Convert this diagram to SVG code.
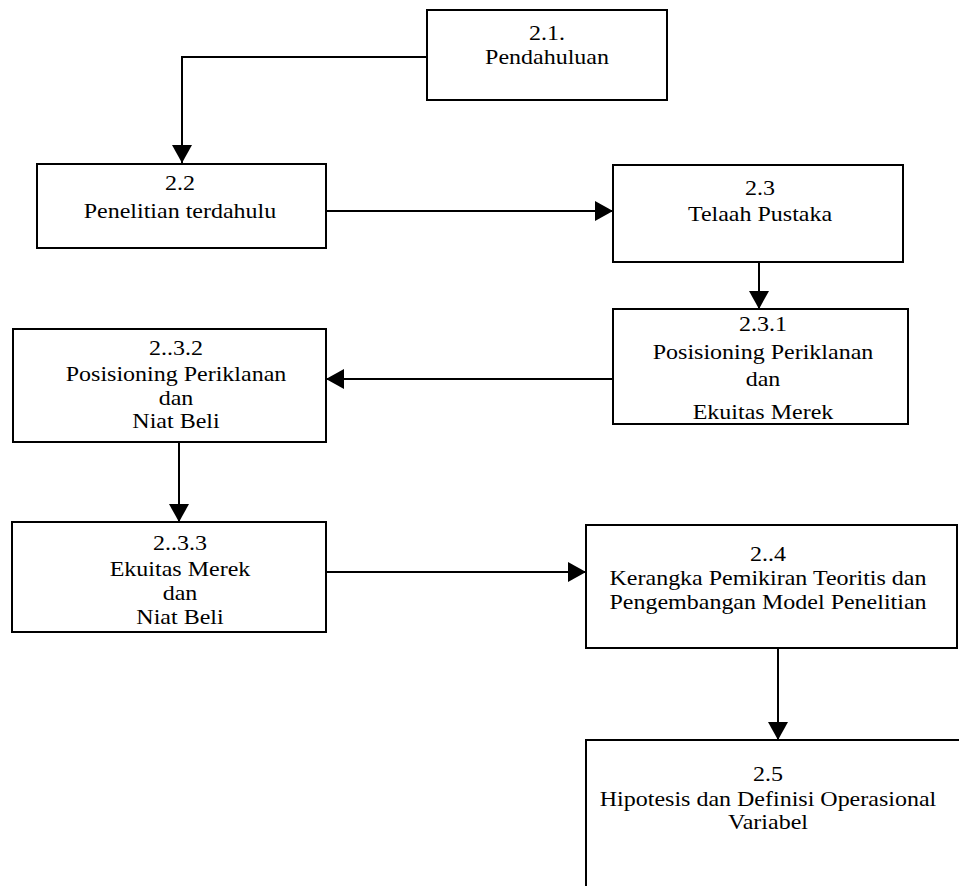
<svg xmlns="http://www.w3.org/2000/svg" width="959" height="890" viewBox="0 0 959 890">
  <style>
    .box { fill: none; stroke: #000; stroke-width: 2; }
    .edge { fill: none; stroke: #000; stroke-width: 2; }
    text { font-family: "Liberation Serif", "Times New Roman", serif; font-size: 20px; fill: #000; text-anchor: middle; }
  </style>
  <defs>
    <marker id="arrow" markerUnits="userSpaceOnUse" markerWidth="20" markerHeight="20" refX="18" refY="10" orient="auto">
      <path d="M0,0 L18,10 L0,20 Z" fill="#000"/>
    </marker>
    <clipPath id="clip231">
      <rect x="613" y="309" width="295" height="112"/>
    </clipPath>
  </defs>
  <rect width="959" height="890" fill="#fff"/>

  <!-- connectors -->
  <g id="connectors">
    <path class="edge" d="M427,57 H182 V163" marker-end="url(#arrow)"/>
    <path class="edge" d="M326,211 H613" marker-end="url(#arrow)"/>
    <path class="edge" d="M759,262 V309" marker-end="url(#arrow)"/>
    <path class="edge" d="M613,379 H326" marker-end="url(#arrow)"/>
    <path class="edge" d="M179,442 V522" marker-end="url(#arrow)"/>
    <path class="edge" d="M326,572 H586" marker-end="url(#arrow)"/>
    <path class="edge" d="M778,648 V740" marker-end="url(#arrow)"/>
  </g>

  <!-- 2.1 -->
  <g id="n21">
    <rect class="box" x="427" y="10" width="240" height="90"/>
    <g transform="translate(547,0) scale(1.2,1)">
      <text x="0" y="40">2.1.</text>
      <text x="0" y="64">Pendahuluan</text>
    </g>
  </g>

  <!-- 2.2 -->
  <g id="n22">
    <rect class="box" x="37" y="164" width="289" height="84"/>
    <g transform="translate(180,0) scale(1.2,1)">
      <text x="0" y="190">2.2</text>
      <text x="0" y="218">Penelitian terdahulu</text>
    </g>
  </g>

  <!-- 2.3 -->
  <g id="n23">
    <rect class="box" x="613" y="165" width="290" height="97"/>
    <g transform="translate(760,0) scale(1.2,1)">
      <text x="0" y="195">2.3</text>
      <text x="0" y="221">Telaah Pustaka</text>
    </g>
  </g>

  <!-- 2.3.1 -->
  <g id="n231">
    <g clip-path="url(#clip231)">
      <g transform="translate(763,0) scale(1.2,1)">
        <text x="0" y="331">2.3.1</text>
        <text x="0" y="359">Posisioning Periklanan</text>
        <text x="0" y="386">dan</text>
        <text x="0" y="419">Ekuitas Merek</text>
      </g>
    </g>
    <rect class="box" x="613" y="309" width="295" height="115"/>
  </g>

  <!-- 2.3.2 -->
  <g id="n232">
    <rect class="box" x="13" y="329" width="313" height="113"/>
    <g transform="translate(176,0) scale(1.2,1)">
      <text x="0" y="355">2..3.2</text>
      <text x="0" y="381">Posisioning Periklanan</text>
      <text x="0" y="405">dan</text>
      <text x="0" y="428">Niat Beli</text>
    </g>
  </g>

  <!-- 2.3.3 -->
  <g id="n233">
    <rect class="box" x="12" y="522" width="314" height="110"/>
    <g transform="translate(180,0) scale(1.2,1)">
      <text x="0" y="550">2..3.3</text>
      <text x="0" y="576">Ekuitas Merek</text>
      <text x="0" y="600">dan</text>
      <text x="0" y="624">Niat Beli</text>
    </g>
  </g>

  <!-- 2.4 -->
  <g id="n24">
    <rect class="box" x="586" y="525" width="371" height="123"/>
    <g transform="translate(768,0) scale(1.2,1)">
      <text x="0" y="561">2..4</text>
      <text x="0" y="585">Kerangka Pemikiran Teoritis dan</text>
      <text x="0" y="609">Pengembangan Model Penelitian</text>
    </g>
  </g>

  <!-- 2.5 (box runs past the lower and right edges) -->
  <g id="n25">
    <path class="box" d="M586,886 V740 H959"/>
    <g transform="translate(768,0) scale(1.2,1)">
      <text x="0" y="781">2.5</text>
      <text x="0" y="806">Hipotesis dan Definisi Operasional</text>
      <text x="0" y="829">Variabel</text>
    </g>
  </g>
</svg>
